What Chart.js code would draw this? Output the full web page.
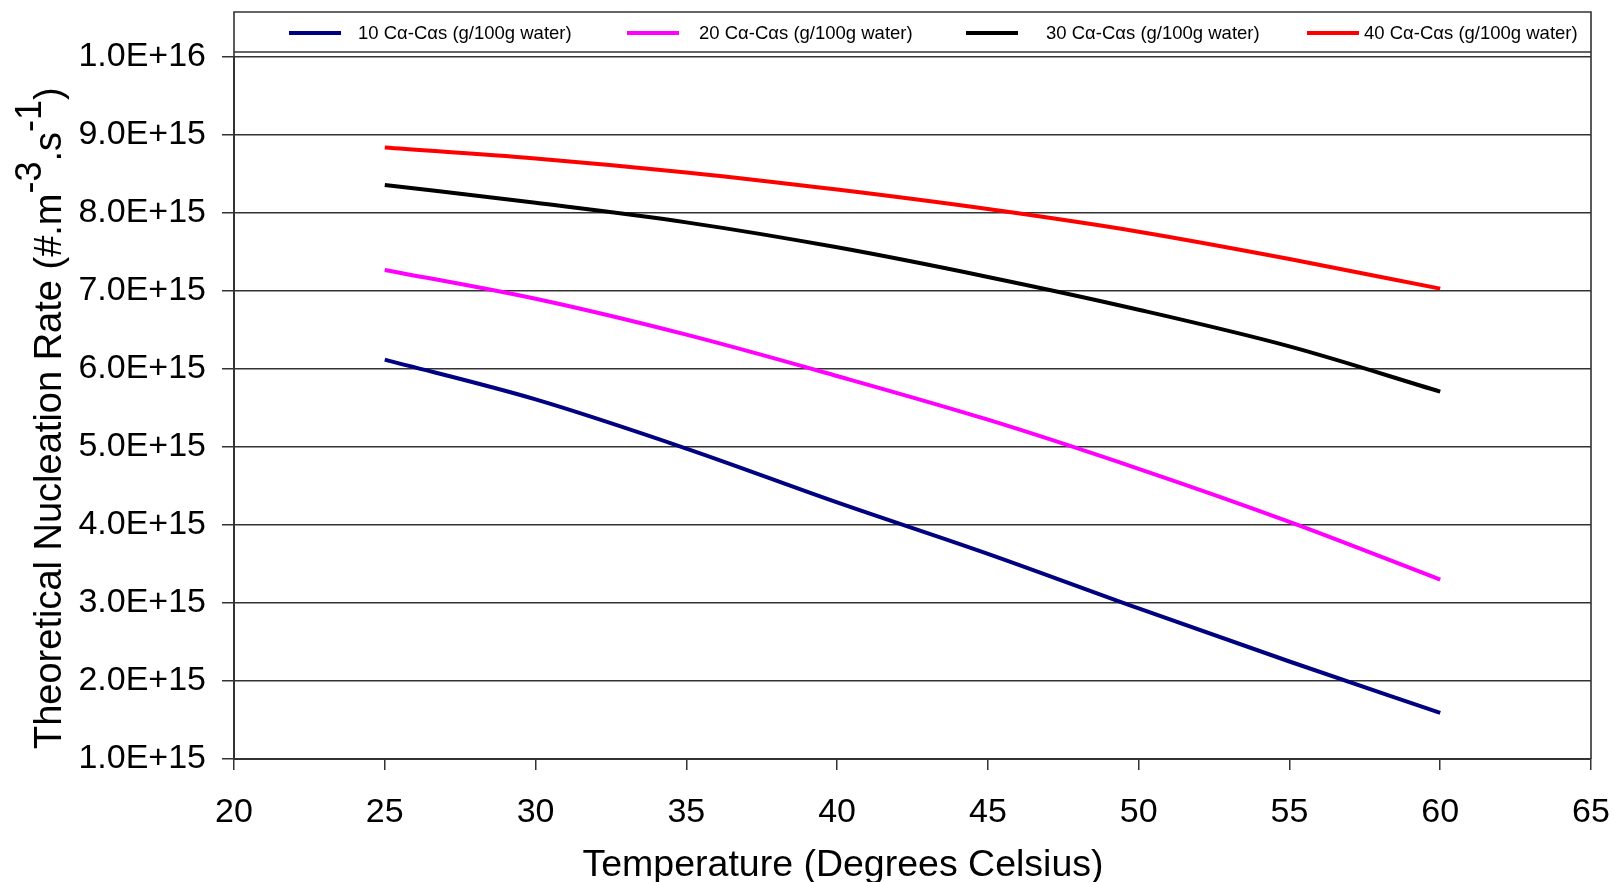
<!DOCTYPE html>
<html>
<head>
<meta charset="utf-8">
<script src="https://cdn.jsdelivr.net/npm/chart.js@4.4.1/dist/chart.umd.min.js"></script>
<style>
  html, body { margin: 0; padding: 0; background: #ffffff; }
  canvas { display: block; }
</style>
</head>
<body>
<canvas id="chart" width="1614" height="882"></canvas>
<script>
// Temperature (°C) at which each nucleation rate was computed
const temperatures = [25, 30, 35, 40, 45, 50, 55, 60];

// Theoretical nucleation rate (#.m-3.s-1) for each Cα-Cαs concentration
const rate10 = [6.12e15, 5.61e15, 4.98e15, 4.29e15, 3.63e15, 2.93e15, 2.25e15, 1.59e15];
const rate20 = [7.27e15, 6.90e15, 6.44e15, 5.91e15, 5.35e15, 4.72e15, 4.04e15, 3.30e15];
const rate30 = [8.36e15, 8.13e15, 7.88e15, 7.56e15, 7.18e15, 6.76e15, 6.29e15, 5.71e15];
const rate40 = [8.84e15, 8.70e15, 8.52e15, 8.30e15, 8.05e15, 7.76e15, 7.41e15, 7.03e15];

const seriesLabels = [
  '10 Cα-Cαs (g/100g water)',
  '20 Cα-Cαs (g/100g water)',
  '30 Cα-Cαs (g/100g water)',
  '40 Cα-Cαs (g/100g water)'
];
const seriesColors = ['#000080', '#FF00FF', '#000000', '#FF0000'];

// Axis ticks
const xTickValues = [20, 25, 30, 35, 40, 45, 50, 55, 60, 65];
const yTickValues = [1e15, 2e15, 3e15, 4e15, 5e15, 6e15, 7e15, 8e15, 9e15, 1e16];

const xTitle = 'Temperature (Degrees Celsius)';
// y title pieces: [text, raised?]
const yTitleParts = [
  ['Theoretical Nucleation Rate (#.m', false],
  ['-3', true],
  ['.s', false],
  ['-1', true],
  [')', false]
];

const FONT = '"Liberation Sans", Arial, sans-serif';

const toPoints = (vals) => temperatures.map((t, i) => ({ x: t, y: vals[i] }));
const allRates = [rate10, rate20, rate30, rate40];

const noScalePadding = (scale) => {
  scale.paddingLeft = 0;
  scale.paddingRight = 0;
  scale.paddingTop = 0;
  scale.paddingBottom = 0;
};

// Frame, legend strip and axis titles
const decorations = {
  id: 'decorations',
  beforeDraw(chart) {
    const ctx = chart.ctx;
    ctx.save();
    ctx.fillStyle = '#ffffff';
    ctx.fillRect(0, 0, chart.width, chart.height);
    ctx.restore();
  },
  afterDraw(chart) {
    const ctx = chart.ctx;
    const a = chart.chartArea;
    const frameTop = 12;
    ctx.save();
    // outer frame around plot + legend strip
    ctx.strokeStyle = '#333333';
    ctx.lineWidth = 1.6;
    ctx.beginPath();
    ctx.moveTo(a.left, a.bottom);
    ctx.lineTo(a.left, frameTop);
    ctx.lineTo(a.right, frameTop);
    ctx.lineTo(a.right, a.bottom);
    ctx.stroke();
    // legend box lower edge
    ctx.beginPath();
    ctx.moveTo(a.left, a.top - 5);
    ctx.lineTo(a.right, a.top - 5);
    ctx.stroke();

    // legend entries
    const lineStarts = [289, 627, 966, 1307];
    const textOffsets = [69, 72, 80, 57];
    const legendY = 33;
    ctx.font = '18.5px ' + FONT;
    ctx.textBaseline = 'middle';
    ctx.textAlign = 'left';
    chart.data.datasets.forEach((ds, i) => {
      ctx.strokeStyle = ds.borderColor;
      ctx.lineWidth = 4;
      ctx.beginPath();
      ctx.moveTo(lineStarts[i], legendY);
      ctx.lineTo(lineStarts[i] + 52, legendY);
      ctx.stroke();
      ctx.fillStyle = '#000000';
      ctx.fillText(ds.label, lineStarts[i] + textOffsets[i], legendY + 1);
    });

    // x axis title
    ctx.fillStyle = '#000000';
    ctx.font = '37.5px ' + FONT;
    ctx.textAlign = 'center';
    ctx.textBaseline = 'alphabetic';
    ctx.fillText(xTitle, 843, 876);

    // y axis title with raised exponents
    ctx.translate(61, 749);
    ctx.rotate(-Math.PI / 2);
    ctx.textAlign = 'left';
    let pos = 0;
    yTitleParts.forEach(([txt, raised]) => {
      ctx.font = (raised ? '36px ' : '38px ') + FONT;
      ctx.fillText(txt, pos, raised ? -20 : 0);
      pos += ctx.measureText(txt).width;
    });
    ctx.restore();
  }
};

new Chart(document.getElementById('chart'), {
  type: 'line',
  data: {
    datasets: allRates.map((vals, i) => ({
      label: seriesLabels[i],
      data: toPoints(vals),
      borderColor: seriesColors[i],
      backgroundColor: seriesColors[i],
      borderWidth: 4,
      pointRadius: 0,
      cubicInterpolationMode: 'monotone',
      fill: false
    }))
  },
  options: {
    responsive: false,
    animation: false,
    layout: { padding: { top: 57, right: 23, left: 0, bottom: 0 } },
    plugins: {
      legend: { display: false },
      tooltip: { enabled: false },
      title: { display: false }
    },
    scales: {
      x: {
        type: 'linear',
        min: 20,
        max: 65,
        afterBuildTicks(scale) { scale.ticks = xTickValues.map(v => ({ value: v })); },
        afterFit(scale) { scale.height = 123; noScalePadding(scale); },
        ticks: {
          color: '#000000',
          font: { family: FONT, size: 34 },
          padding: 22,
          maxRotation: 0,
          autoSkip: false
        },
        grid: {
          drawOnChartArea: false,
          drawTicks: true,
          tickLength: 11,
          color: '#333333',
          lineWidth: 1.5
        },
        border: { display: true, color: '#333333', width: 2 },
        title: { display: false }
      },
      y: {
        type: 'linear',
        min: 1e15,
        max: 1e16,
        afterBuildTicks(scale) { scale.ticks = yTickValues.map(v => ({ value: v })); },
        afterFit(scale) { scale.width = 234; noScalePadding(scale); },
        ticks: {
          color: '#000000',
          font: { family: FONT, size: 34 },
          padding: 16,
          autoSkip: false,
          callback: (v) => Number(v).toExponential(1).toUpperCase()
        },
        grid: {
          drawOnChartArea: true,
          drawTicks: true,
          tickLength: 12,
          color: '#333333',
          lineWidth: 1.5
        },
        border: { display: true, color: '#333333', width: 2 },
        title: { display: false }
      }
    }
  },
  plugins: [decorations]
});
</script>
</body>
</html>
